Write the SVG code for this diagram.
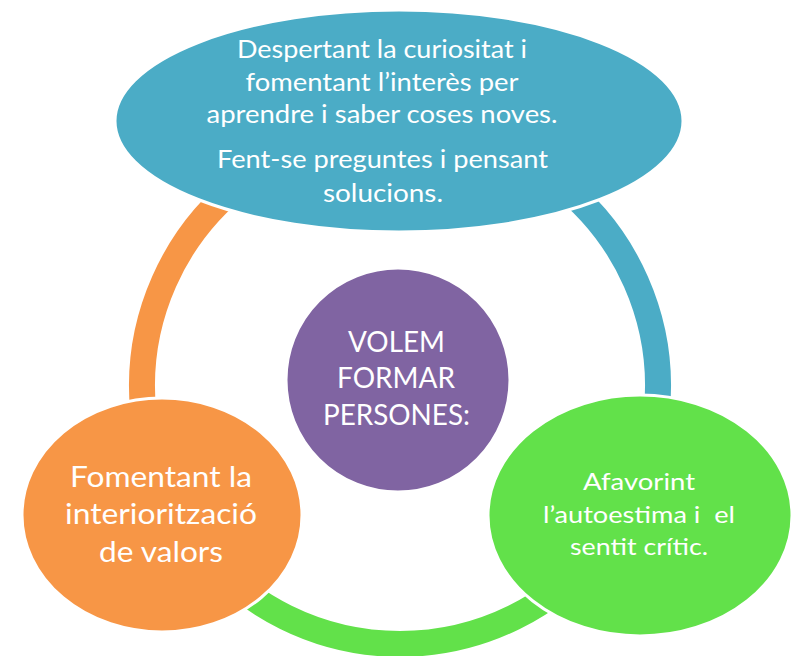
<svg xmlns="http://www.w3.org/2000/svg" width="798" height="656" viewBox="0 0 798 656">
<style>
.arc{fill:none;stroke-width:26;stroke-linecap:butt}
.node{stroke:#ffffff;stroke-width:3}
.t{font-family:Lato,"Liberation Sans",sans-serif;fill:#ffffff;text-anchor:middle}
</style>
<rect width="798" height="656" fill="#ffffff"/>
<g id="connectors">
<path class="arc" stroke="#F79646" d="M143.1,409.8 A258,258 0 0 1 244.7,180"/>
<path class="arc" stroke="#4BACC6" d="M555.3,180 A258,258 0 0 1 656.9,409.8"/>
<path class="arc" stroke="#62E14A" d="M597.6,551.8 A258,258 0 0 1 202.4,551.8"/>
</g>
<g id="top">
<ellipse class="node" cx="399" cy="121" rx="284" ry="111" fill="#4BACC6"/>
<text class="t" font-size="24.5"><tspan x="382" y="58" textLength="290" lengthAdjust="spacingAndGlyphs">Despertant la curiositat i</tspan><tspan x="382" y="91" textLength="273" lengthAdjust="spacingAndGlyphs">fomentant l’interès per</tspan><tspan x="382" y="123" textLength="351" lengthAdjust="spacingAndGlyphs">aprendre i saber coses noves.</tspan><tspan x="382.5" y="168" textLength="331" lengthAdjust="spacingAndGlyphs">Fent-se preguntes i pensant</tspan><tspan x="383" y="202" textLength="120" lengthAdjust="spacingAndGlyphs">solucions.</tspan></text>
</g>
<g id="center">
<circle class="node" cx="398" cy="380" r="112" fill="#8064A2"/>
<text class="t" font-size="28"><tspan x="396.5" y="352" textLength="97" lengthAdjust="spacingAndGlyphs">VOLEM</tspan><tspan x="396" y="388" textLength="118" lengthAdjust="spacingAndGlyphs">FORMAR</tspan><tspan x="396.5" y="425" textLength="147" lengthAdjust="spacingAndGlyphs">PERSONES:</tspan></text>
</g>
<g id="left">
<ellipse class="node" cx="162" cy="515" rx="140" ry="117" fill="#F79646"/>
<text class="t" font-size="29"><tspan x="161" y="487" textLength="182" lengthAdjust="spacingAndGlyphs">Fomentant la</tspan><tspan x="161" y="524" textLength="192" lengthAdjust="spacingAndGlyphs">interiorització</tspan><tspan x="161" y="562" textLength="124" lengthAdjust="spacingAndGlyphs">de valors</tspan></text>
</g>
<g id="right">
<ellipse class="node" cx="640" cy="515.5" rx="152" ry="120.5" fill="#62E14A"/>
<text class="t" font-size="24"><tspan x="639" y="490" textLength="112" lengthAdjust="spacingAndGlyphs">Afavorint</tspan><tspan x="639" y="523" textLength="192" lengthAdjust="spacingAndGlyphs">l’autoestima i&#160; el</tspan><tspan x="639" y="555" textLength="138" lengthAdjust="spacingAndGlyphs">sentit crític.</tspan></text>
</g>
</svg>
